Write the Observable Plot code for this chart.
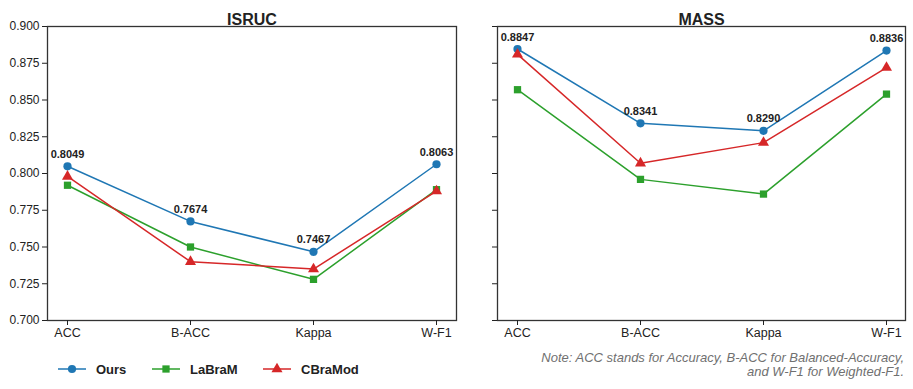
<!DOCTYPE html>
<html>
<head>
<meta charset="utf-8">
<script src="https://cdn.jsdelivr.net/npm/d3@7"></script>
<script src="https://cdn.jsdelivr.net/npm/@observablehq/plot@0.6"></script>
<style>
  html, body { margin: 0; padding: 0; background: #fff; }
  #fig { position: relative; width: 913px; height: 389px; overflow: hidden; font-family: "Liberation Sans", Arial, sans-serif; }
  .panel { position: absolute; top: 0; }
  #legend { position: absolute; left: 0; top: 352px; }
  #note { position: absolute; right: 9px; top: 351px; text-align: right; font-style: italic; font-size: 13px; line-height: 14px; color: #707070; }
</style>
</head>
<body>
<div id="fig">
  <div id="left" class="panel" style="left:0px"></div>
  <div id="right" class="panel" style="left:460px"></div>
  <div id="legend"></div>
  <div id="note">Note: ACC stands for Accuracy, B-ACC for Balanced-Accuracy,<br>and W-F1 for Weighted-F1.</div>
</div>
<script>
const metrics = ["ACC", "B-ACC", "Kappa", "W-F1"];
const models = ["Ours", "LaBraM", "CBraMod"];
const colors = ["#1f77b4", "#2ca02c", "#d62728"];
const symbols = ["circle", "square", "triangle"];
const datasets = ["ISRUC", "MASS"];

const isrucOurs    = [0.8049, 0.7674, 0.7467, 0.8063];
const isrucLaBraM  = [0.792, 0.750, 0.728, 0.789];
const isrucCBraMod = [0.798, 0.740, 0.735, 0.788];

const massOurs     = [0.8847, 0.8341, 0.8290, 0.8836];
const massLaBraM   = [0.857, 0.796, 0.786, 0.854];
const massCBraMod  = [0.881, 0.807, 0.821, 0.872];

const yTicks = [0.700, 0.725, 0.750, 0.775, 0.800, 0.825, 0.850, 0.875, 0.900];

function toRows(seriesList) {
  const rows = [];
  seriesList.forEach((vals, i) => {
    vals.forEach((v, j) => rows.push({model: models[i], metric: metrics[j], value: v}));
  });
  return rows;
}

const fontFamily = '"Liberation Sans", Arial, sans-serif';

function panel(title, seriesList, showLabels, opts) {
  const rows = toRows(seriesList);
  const ours = rows.filter(d => d.model === "Ours");
  const marks = [
    Plot.frame({stroke: "#333", strokeWidth: 1.3}),
    Plot.axisY({
      ticks: yTicks,
      tickFormat: showLabels ? d3.format(".3f") : () => "",
      tickSize: 5, tickPadding: 3, fontSize: 12, strokeWidth: 1
    }),
    Plot.axisX({tickSize: 5, tickPadding: 3, fontSize: 12.5, strokeWidth: 1}),
    Plot.text([title], {frameAnchor: "top", dy: -13, text: d => d, fontWeight: "bold", fontSize: 16, fill: "#222"})
  ];
  models.forEach((m, i) => {
    const data = rows.filter(d => d.model === m);
    marks.push(Plot.line(data, {x: "metric", y: "value", stroke: colors[i], strokeWidth: 1.5}));
    marks.push(Plot.dot(data, {x: "metric", y: "value", fill: colors[i], symbol: symbols[i], r: 4.1}));
  });
  marks.push(Plot.text(ours, {x: "metric", y: "value", text: d => d.value.toFixed(4), dy: -12, fontWeight: "bold", fontSize: 11, fill: "#222"}));
  return Plot.plot({
    width: opts.width,
    height: 345,
    marginLeft: opts.marginLeft,
    marginRight: opts.marginRight,
    marginTop: 26,
    marginBottom: 25,
    style: {fontFamily, color: "#222", background: "transparent", overflow: "visible"},
    x: {type: "point", domain: metrics, padding: 0.153, label: null},
    y: {domain: [0.7, 0.9], label: null},
    marks
  });
}

document.getElementById("left").appendChild(
  panel(datasets[0], [isrucOurs, isrucLaBraM, isrucCBraMod], true, {width: 460, marginLeft: 47, marginRight: 4})
);
document.getElementById("right").appendChild(
  panel(datasets[1], [massOurs, massLaBraM, massCBraMod], false, {width: 453, marginLeft: 37, marginRight: 8})
);

// Legend
const legendX = [58, 152, 263];
const svg = d3.select("#legend").append("svg").attr("width", 460).attr("height", 34)
  .style("font-family", fontFamily);
models.forEach((m, i) => {
  const g = svg.append("g").attr("transform", `translate(${legendX[i]},17)`);
  g.append("line").attr("x1", 0).attr("x2", 28).attr("y1", 0).attr("y2", 0)
    .attr("stroke", colors[i]).attr("stroke-width", 1.5);
  const sym = {circle: d3.symbolCircle, square: d3.symbolSquare, triangle: d3.symbolTriangle}[symbols[i]];
  g.append("path").attr("transform", "translate(14,0)")
    .attr("d", d3.symbol(sym, Math.PI * 16.8)()).attr("fill", colors[i]);
  g.append("text").attr("x", 38).attr("y", 0).attr("dy", "0.35em")
    .attr("font-weight", "bold").attr("font-size", 13).attr("fill", "#222").text(m);
});
</script>
</body>
</html>
